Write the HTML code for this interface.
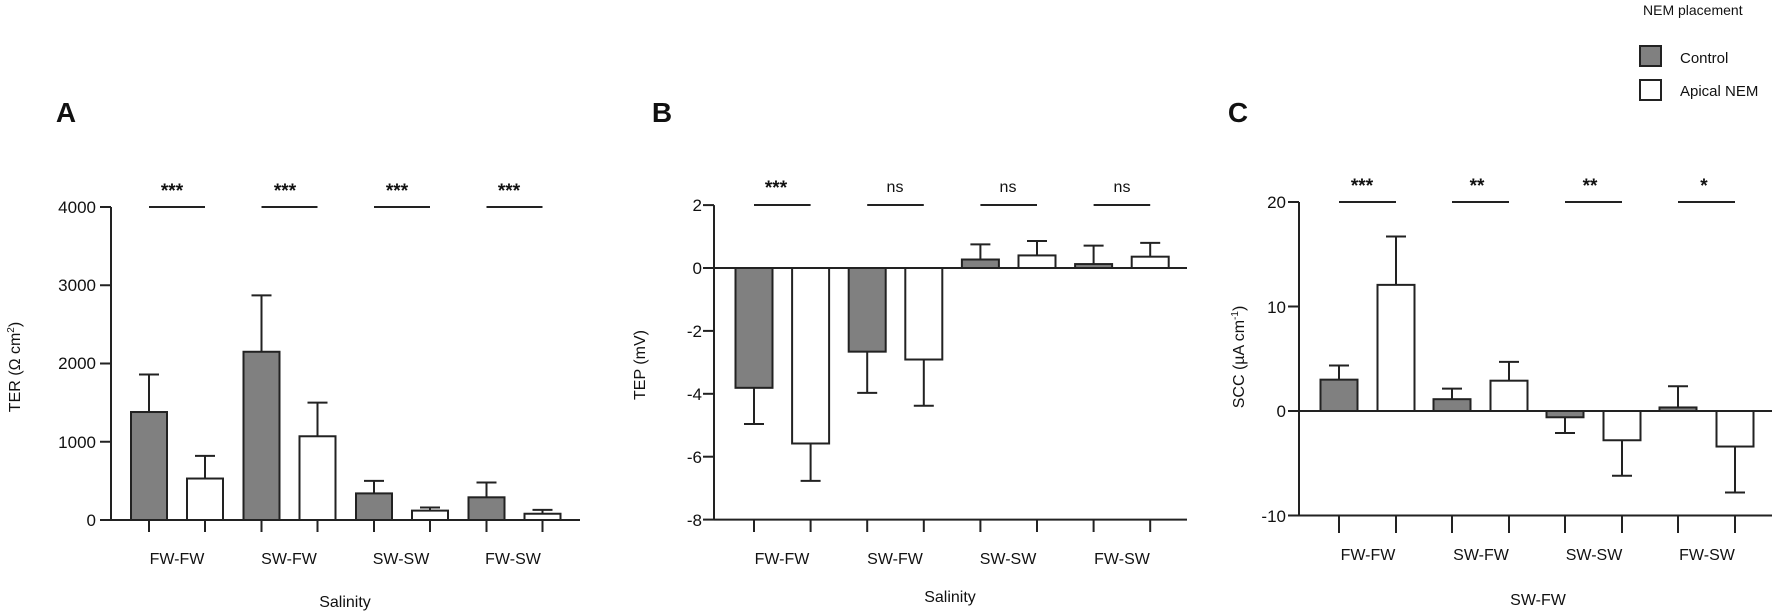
<!DOCTYPE html>
<html><head><meta charset="utf-8">
<style>
html,body{margin:0;padding:0;background:#fff;}
svg{display:block;font-family:"Liberation Sans",Arial,sans-serif;}
</style></head>
<body>
<svg id="s" width="1772" height="613" viewBox="0 0 1772 613" xmlns="http://www.w3.org/2000/svg">
<rect width="1772" height="613" fill="#fff"/>
<g id="g" stroke="#222" stroke-width="2" fill="none"></g>
<g font-size="17" fill="#111">
<text x="66" y="122" font-size="28" font-weight="bold" text-anchor="middle">A</text>
<text x="662" y="122" font-size="28" font-weight="bold" text-anchor="middle">B</text>
<text x="1238" y="122" font-size="28" font-weight="bold" text-anchor="middle">C</text>
<g text-anchor="end">
<text x="96" y="213">4000</text><text x="96" y="291">3000</text><text x="96" y="369">2000</text><text x="96" y="448">1000</text><text x="96" y="526">0</text>
<text x="702" y="211">2</text><text x="702" y="274">0</text><text x="702" y="337">-2</text><text x="702" y="400">-4</text><text x="702" y="463">-6</text><text x="702" y="526">-8</text>
<text x="1286" y="208">20</text><text x="1286" y="313">10</text><text x="1286" y="417">0</text><text x="1286" y="522">-10</text>
</g>
<g text-anchor="middle" font-size="16">
<text x="177" y="564">FW-FW</text><text x="289" y="564">SW-FW</text><text x="401" y="564">SW-SW</text><text x="513" y="564">FW-SW</text>
<text x="782" y="564">FW-FW</text><text x="895" y="564">SW-FW</text><text x="1008" y="564">SW-SW</text><text x="1122" y="564">FW-SW</text>
<text x="1368" y="560">FW-FW</text><text x="1481" y="560">SW-FW</text><text x="1594" y="560">SW-SW</text><text x="1707" y="560">FW-SW</text>
<text x="345" y="607">Salinity</text><text x="950" y="602">Salinity</text><text x="1538" y="605">SW-FW</text>
</g>
<g font-size="16" text-anchor="middle">
<text transform="translate(20,367) rotate(-90)">TER (Ω cm<tspan font-size="10" dy="-6">2</tspan><tspan dy="6">)</tspan></text>
<text transform="translate(645,365) rotate(-90)">TEP (mV)</text>
<text transform="translate(1244,357) rotate(-90)">SCC (µA cm<tspan font-size="10" dy="-6">-1</tspan><tspan dy="6">)</tspan></text>
</g>
<g font-size="19" font-weight="bold" text-anchor="middle">
<text x="172" y="197">***</text><text x="285" y="197">***</text><text x="397" y="197">***</text><text x="509" y="197">***</text>
<text x="776" y="194">***</text>
<text x="1362" y="192">***</text><text x="1477" y="192">**</text><text x="1590" y="192">**</text><text x="1704" y="192">*</text>
</g>
<g font-size="16" text-anchor="middle">
<text x="895" y="192">ns</text><text x="1008" y="192">ns</text><text x="1122" y="192">ns</text>
</g>
<text x="1643" y="15" font-size="14">NEM placement</text>
<rect x="1640" y="46" width="21" height="20" fill="#808080" stroke="#222" stroke-width="2"/>
<rect x="1640" y="80" width="21" height="20" fill="#fff" stroke="#222" stroke-width="2"/>
<text x="1680" y="63" font-size="15">Control</text>
<text x="1680" y="96" font-size="15">Apical NEM</text>
</g>
</svg>
<script>
(function(){
var g=document.getElementById('g'),NS='http://www.w3.org/2000/svg';
function el(t,a){var e=document.createElementNS(NS,t);for(var k in a)e.setAttribute(k,a[k]);g.appendChild(e);return e;}
function line(x1,y1,x2,y2,w){el('line',{x1:x1,y1:y1,x2:x2,y2:y2,'stroke-width':w||2});}
function panel(p){
 var Y=function(v){return p.y0+(v)*p.k;};
 line(p.ax,Y(p.ymax),p.ax,Y(p.ymin));
 p.ticks.forEach(function(t){line(p.ax-11,Y(t),p.ax,Y(t));});
 line(p.ax,Y(p.base),p.xend,Y(p.base));
 for(var i=0;i<8;i++){var cx=p.c0+Math.floor(i/2)*p.gs+(i%2)*p.ws;
  line(cx,p.tickTop,cx,p.tickBot);}
 for(var i=0;i<8;i++){var cx=p.c0+Math.floor(i/2)*p.gs+(i%2)*p.ws;
  var v=p.v[i],e=p.e[i];
  var ya=Y(0),yb=Y(v);
  el('line',{x1:cx,y1:yb,x2:cx,y2:Y(e),'stroke-width':2});
  line(cx-10,Y(e),cx+10,Y(e));
  el('rect',{x:cx-p.bw/2,y:Math.min(ya,yb),width:p.bw,height:Math.abs(yb-ya),fill:(i%2?'#fff':'#808080')});
 }
 if(p.base!==0) line(p.ax,Y(0),p.xend,Y(0));
 for(var j=0;j<4;j++){var x1=p.c0+j*p.gs;line(x1,p.sy,x1+p.ws,p.sy);}
}
panel({ax:111,y0:520,k:-0.07825,ymax:4000,ymin:0,base:0,ticks:[0,1000,2000,3000,4000],xend:580,
 c0:149,gs:112.5,ws:56,bw:36,tickTop:520,tickBot:532,sy:207,
 v:[1380,530,2150,1070,340,120,290,80],e:[1860,820,2870,1500,500,160,480,130]});
panel({ax:714,y0:268,k:-31.45,ymax:2,ymin:-8,base:-8,ticks:[2,0,-2,-4,-6,-8],xend:1187,
 c0:754,gs:113.2,ws:56.6,bw:37,tickTop:520,tickBot:532,sy:205,
 v:[-3.81,-5.58,-2.66,-2.91,0.27,0.40,0.125,0.36],e:[-4.96,-6.77,-3.97,-4.38,0.75,0.86,0.71,0.8]});
panel({ax:1299,y0:411,k:-10.45,ymax:20,ymin:-10,base:-10,ticks:[20,10,0,-10],xend:1772,
 c0:1339,gs:113,ws:57,bw:37,tickTop:516,tickBot:533,sy:202,
 v:[3.0,12.07,1.13,2.9,-0.6,-2.8,0.34,-3.4],e:[4.36,16.7,2.14,4.7,-2.1,-6.2,2.37,-7.8]});
})();
</script>
</body></html>
